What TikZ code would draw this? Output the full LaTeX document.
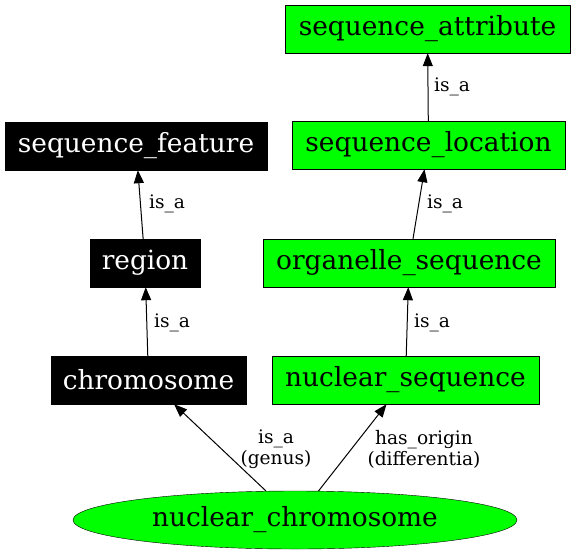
\documentclass[tikz,border=0pt]{standalone}
\usepackage{fontspec}
\setmainfont{DejaVu Serif}
\usetikzlibrary{arrows.meta,shapes.geometric}
\tikzset{
  term/.style={draw=black, fill=green, rectangle, minimum height=48pt, inner sep=0pt, font=\fontsize{26.4}{30}\selectfont},
  blackterm/.style={term, fill=black, text=white},
  rootterm/.style={term, ellipse, minimum width=444pt, minimum height=58pt},
  rel/.style={-{Triangle[length=13pt,width=10pt]}, line width=1pt},
  lbl/.style={font=\fontsize{18.6}{21}\selectfont, align=center, inner sep=0pt}
}
\begin{document}
\begin{tikzpicture}[x=1pt, y=-1pt]
			%%%%% START %%%%%
			
			\useasboundingbox (0, 0) rectangle (576, 555);
			
			\node[term, minimum width=285pt] (seqattr) at (427.5, 29) {sequence\_attribute};
			\node[term, minimum width=273pt] (seqloc) at (428.5, 145) {sequence\_location};
			\node[term, minimum width=292pt] (orgseq) at (409, 263) {organelle\_sequence};
			\node[term, minimum width=267pt] (nucseq) at (405.5, 380) {nuclear\_sequence};
			
			\node[blackterm, minimum width=262pt] (seqfeat) at (136, 146) {sequence\_feature};
			\node[blackterm, minimum width=110pt] (region) at (145, 263) {region};
			\node[blackterm, minimum width=195pt] (chrom) at (148.5, 380) {chromosome};
			
			\node[rootterm] (nucchrom) at (295, 520) {nuclear\_chromosome};
			
			\draw[rel] (nucchrom.135) -- (chrom);
			\draw[rel] (nucchrom.51) -- (nucseq);
			\draw[rel] (chrom) -- (region);
			\draw[rel] (region) -- (seqfeat);
			\draw[rel] (nucseq) -- (orgseq);
			\draw[rel] (orgseq) -- (seqloc);
			\draw[rel] (seqloc) -- (seqattr);
			
			\node[lbl] (genus) at (276, 449) {is\_a\\(genus)};
			\node[lbl] (differentia) at (424, 449) {has\_origin\\(differentia)};
			\node[lbl] (isa1) at (172, 323) {is\_a};
			\node[lbl] (isa2) at (167, 204) {is\_a};
			\node[lbl] (isa3) at (432, 323) {is\_a};
			\node[lbl] (isa4) at (445, 204) {is\_a};
			\node[lbl] (isa5) at (452, 87) {is\_a};
			
			%%%%% END %%%%%
\end{tikzpicture}
\end{document}
